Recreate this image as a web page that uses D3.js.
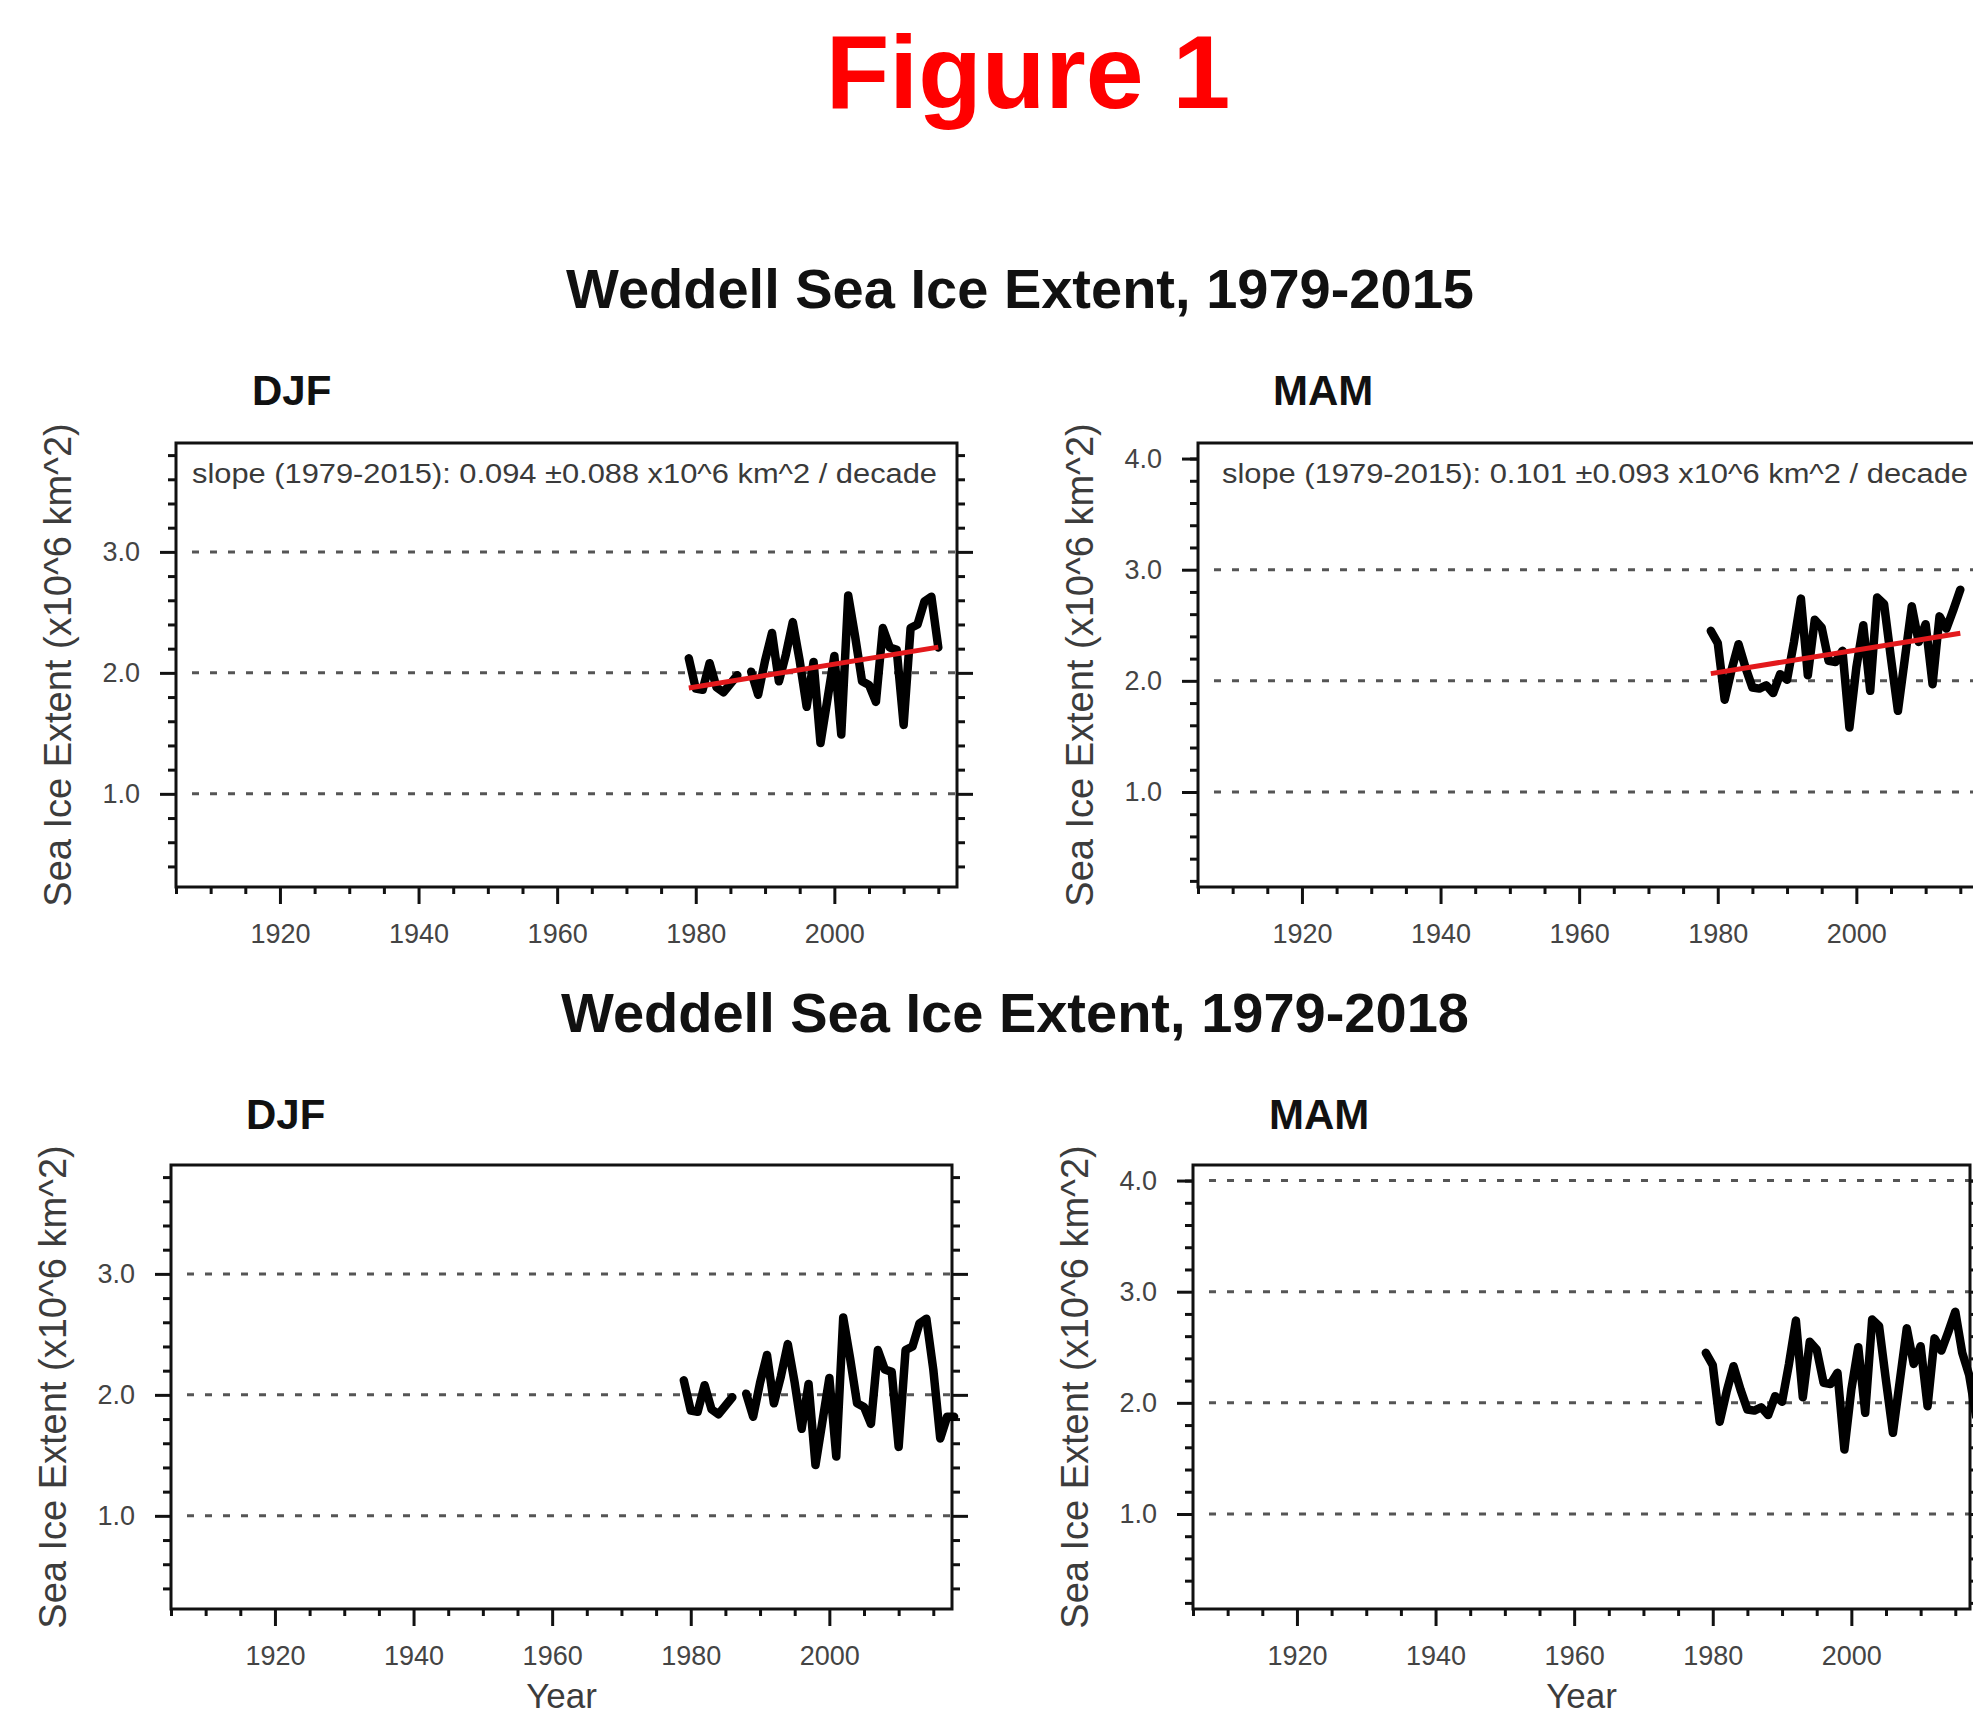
<!DOCTYPE html>
<html>
<head>
<meta charset="utf-8">
<script src="https://cdn.jsdelivr.net/npm/d3@7"></script>
<style>
  html, body { margin: 0; padding: 0; background: #fff; }
  svg { display: block; }
</style>
</head>
<body>
<svg id="chart" width="1973" height="1720"></svg>
<script>
// ---------- DATA ----------
const years = [1979,1980,1981,1982,1983,1984,1985,1986,1987,1988,1989,1990,1991,1992,1993,1994,1995,1996,1997,1998,
               1999,2000,2001,2002,2003,2004,2005,2006,2007,2008,2009,2010,2011,2012,2013,2014,2015,2016,2017,2018];
// DJF Weddell Sea ice extent (x10^6 km^2); 1987 missing
const djfExtent = [2.12,1.87,1.86,2.08,1.88,1.84,1.91,1.98,null,2.01,1.82,2.10,2.33,1.93,2.15,2.42,2.10,1.72,2.09,1.42,
                   1.78,2.14,1.49,2.64,2.30,1.93,1.90,1.76,2.37,2.21,2.19,1.57,2.37,2.40,2.59,2.63,2.21,1.64,1.82,1.82];
// MAM Weddell Sea ice extent (x10^6 km^2)
const mamExtent = [2.45,2.34,1.83,2.10,2.33,2.12,1.94,1.93,1.96,1.89,2.06,2.01,2.35,2.74,2.05,2.55,2.48,2.18,2.17,2.27,
                   1.58,2.12,2.50,1.91,2.75,2.69,2.20,1.73,2.20,2.67,2.35,2.51,1.97,2.58,2.47,2.64,2.82,2.45,2.25,1.88];
// linear trend 1979-2015 (end points)
const trendYears = [1979, 2015];
const trendDJF = [1.875, 2.213];
const trendMAM = [2.065, 2.429];
const slopeTextDJF = "slope (1979-2015): 0.094 \u00B10.088 x10^6 km^2 / decade";
const slopeTextMAM = "slope (1979-2015): 0.101 \u00B10.093 x10^6 km^2 / decade";
// axis ticks
const xMajorTicks = [1920, 1940, 1960, 1980, 2000];
const xMinorTicks = [1905,1910,1915,1925,1930,1935,1945,1950,1955,1965,1970,1975,1985,1990,1995,2005,2010,2015];
const yMajorDJF = [1.0, 2.0, 3.0];
const yMajorMAM = [1.0, 2.0, 3.0, 4.0];
const yMinorDJF = [0.4,0.6,0.8,1.2,1.4,1.6,1.8,2.2,2.4,2.6,2.8,3.2,3.4,3.6,3.8];
const yMinorMAM = [0.2,0.4,0.6,0.8,1.2,1.4,1.6,1.8,2.2,2.4,2.6,2.8,3.2,3.4,3.6,3.8,4.0];
const gridTopMAM = [1.0, 2.0, 3.0];
const gridBottomMAM = [1.0, 2.0, 3.0, 4.0];
// titles
const figTitle = "Figure 1";
const rowTitles = ["Weddell Sea Ice Extent, 1979-2015", "Weddell Sea Ice Extent, 1979-2018"];
const seasonNames = ["DJF", "MAM"];
const yLabel = "Sea Ice Extent (x10^6 km^2)";
const xLabel = "Year";

// ---------- LAYOUT ----------
const svg = d3.select("#chart");
const FONT = "'Liberation Sans', Arial, Helvetica, sans-serif";
const pxPerYear = 6.93;
const xStart = 1905;
const djfYDomain = [0.23, 3.90];
const mamYDomain = [0.145, 4.14];

svg.append("text").attr("x", 1028).attr("y", 108).attr("text-anchor", "middle")
  .attr("font-family", FONT).attr("font-weight", "bold").attr("font-size", 104)
  .attr("fill", "#ff0000").text(figTitle);

svg.append("text").attr("x", 1020).attr("y", 308).attr("text-anchor", "middle")
  .attr("font-family", FONT).attr("font-weight", "bold").attr("font-size", 56)
  .attr("fill", "#111").text(rowTitles[0]);
svg.append("text").attr("x", 1015).attr("y", 1032).attr("text-anchor", "middle")
  .attr("font-family", FONT).attr("font-weight", "bold").attr("font-size", 56)
  .attr("fill", "#111").text(rowTitles[1]);

function yrs(n) { return years.slice(0, n); }
const n2015 = years.indexOf(2015) + 1;

const panels = [
  { left: 176, top: 443, width: 781, height: 444, title: seasonNames[0], titleX: 252, titleY: 405,
    yDomain: djfYDomain, yMajor: yMajorDJF, yMinor: yMinorDJF, grid: yMajorDJF,
    values: djfExtent.slice(0, n2015), yrs: yrs(n2015), trend: trendDJF, slope: slopeTextDJF, slopeX: 192, slopeLen: 745, xlab: false },
  { left: 1198, top: 443, width: 781, height: 444, title: seasonNames[1], titleX: 1273, titleY: 405,
    yDomain: mamYDomain, yMajor: yMajorMAM, yMinor: yMinorMAM, grid: gridTopMAM,
    values: mamExtent.slice(0, n2015), yrs: yrs(n2015), trend: trendMAM, slope: slopeTextMAM, slopeX: 1222, slopeLen: 746, xlab: false },
  { left: 171, top: 1165, width: 781, height: 444, title: seasonNames[0], titleX: 246, titleY: 1129,
    yDomain: djfYDomain, yMajor: yMajorDJF, yMinor: yMinorDJF, grid: yMajorDJF,
    values: djfExtent, yrs: years, trend: null, slope: null, xlab: true },
  { left: 1193, top: 1165, width: 777, height: 444, title: seasonNames[1], titleX: 1269, titleY: 1129,
    yDomain: mamYDomain, yMajor: yMajorMAM, yMinor: yMinorMAM, grid: gridBottomMAM,
    values: mamExtent, yrs: years, trend: null, slope: null, xlab: true }
];

function styleAxis(g, labelSize) {
  g.select(".domain").remove();
  g.selectAll(".tick line").attr("stroke", "#111").attr("stroke-width", 3);
  g.selectAll(".tick text").attr("font-family", FONT).attr("font-size", labelSize).attr("fill", "#444");
}

panels.forEach(p => {
  const x = d3.scaleLinear().domain([xStart, xStart + p.width / pxPerYear]).range([p.left, p.left + p.width]);
  const y = d3.scaleLinear().domain(p.yDomain).range([p.top + p.height, p.top]);
  const g = svg.append("g");

  // season title
  g.append("text").attr("x", p.titleX).attr("y", p.titleY)
    .attr("font-family", FONT).attr("font-weight", "bold").attr("font-size", 42)
    .attr("fill", "#111").text(p.title);

  // dotted reference lines
  g.selectAll("line.grid").data(p.grid).enter().append("line")
    .attr("x1", p.left + 16).attr("x2", p.left + p.width)
    .attr("y1", d => y(d)).attr("y2", d => y(d))
    .attr("stroke", "#555").attr("stroke-width", 3).attr("stroke-dasharray", "7 11");

  // left axis
  const la = g.append("g").attr("transform", `translate(${p.left},0)`)
    .call(d3.axisLeft(y).tickValues(p.yMajor).tickSize(16).tickPadding(20).tickFormat(d3.format(".1f")));
  styleAxis(la, 27);
  const lm = g.append("g").attr("transform", `translate(${p.left},0)`)
    .call(d3.axisLeft(y).tickValues(p.yMinor).tickSize(8).tickFormat(""));
  styleAxis(lm, 27);
  // right axis
  const ra = g.append("g").attr("transform", `translate(${p.left + p.width},0)`)
    .call(d3.axisRight(y).tickValues(p.yMajor).tickSize(16).tickFormat(""));
  styleAxis(ra, 27);
  const rm = g.append("g").attr("transform", `translate(${p.left + p.width},0)`)
    .call(d3.axisRight(y).tickValues(p.yMinor).tickSize(8).tickFormat(""));
  styleAxis(rm, 27);
  // bottom axis
  const ba = g.append("g").attr("transform", `translate(0,${p.top + p.height})`)
    .call(d3.axisBottom(x).tickValues(xMajorTicks).tickSize(17).tickPadding(20).tickFormat(d3.format("d")));
  styleAxis(ba, 27);
  const bm = g.append("g").attr("transform", `translate(0,${p.top + p.height})`)
    .call(d3.axisBottom(x).tickValues(xMinorTicks).tickSize(7).tickFormat(""));
  styleAxis(bm, 27);

  // frame
  g.append("rect").attr("x", p.left).attr("y", p.top).attr("width", p.width).attr("height", p.height)
    .attr("fill", "none").attr("stroke", "#111").attr("stroke-width", 3);

  // data line
  const series = p.yrs.map((yr, i) => ({ yr: yr, v: p.values[i] }));
  const line = d3.line().defined(d => d.v !== null).x(d => x(d.yr)).y(d => y(d.v));
  g.append("path").datum(series).attr("d", line)
    .attr("fill", "none").attr("stroke", "#000").attr("stroke-width", 8.5)
    .attr("stroke-linejoin", "round").attr("stroke-linecap", "round");

  // trend line
  if (p.trend) {
    const tr = trendYears.map((yr, i) => ({ yr: yr, v: p.trend[i] }));
    g.append("path").datum(tr).attr("d", line)
      .attr("fill", "none").attr("stroke", "#e3191c").attr("stroke-width", 5);
  }

  // slope text
  if (p.slope) {
    g.append("text").attr("x", p.slopeX).attr("y", p.top + 40)
      .attr("font-family", FONT).attr("font-size", 27).attr("fill", "#3a3a3a")
      .attr("textLength", p.slopeLen).attr("lengthAdjust", "spacingAndGlyphs")
      .text(p.slope);
  }

  // y label
  const cy = p.top + p.height / 2;
  g.append("text").attr("transform", `translate(${p.left - 105},${cy}) rotate(-90)`)
    .attr("text-anchor", "middle").attr("font-family", FONT).attr("font-size", 38)
    .attr("fill", "#3c3c3c").text(yLabel);

  // x label
  if (p.xlab) {
    g.append("text").attr("x", p.left + p.width / 2).attr("y", p.top + p.height + 99)
      .attr("text-anchor", "middle").attr("font-family", FONT).attr("font-size", 35)
      .attr("fill", "#3c3c3c").text(xLabel);
  }
});
</script>
</body>
</html>
